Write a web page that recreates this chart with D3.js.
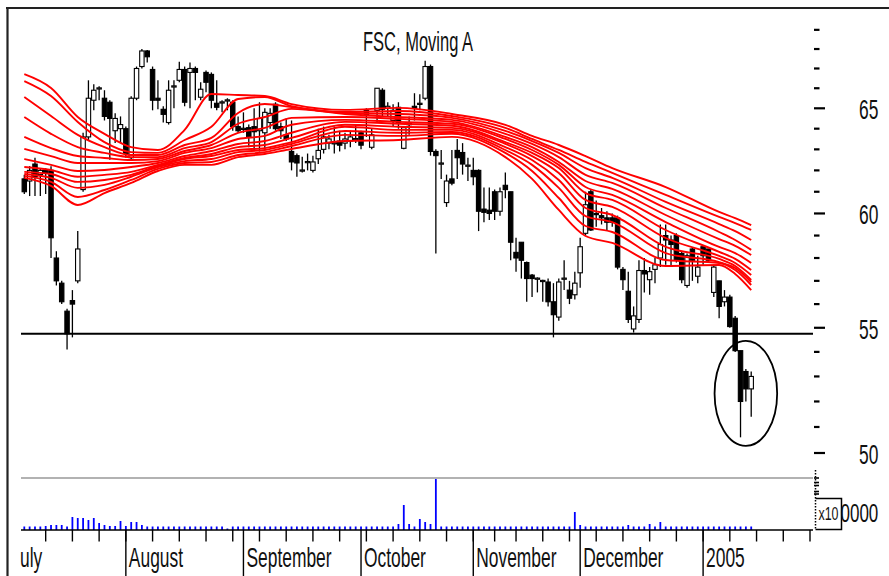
<!DOCTYPE html>
<html lang="en">
<head>
<meta charset="UTF-8">
<title>FSC, Moving A</title>
<style>
  body { margin: 0; background: #fff; }
  svg { display: block; }
  text { font-family: "Liberation Sans", Arial, sans-serif; fill: #111; }
</style>
</head>
<body>
<svg id="chart" width="889" height="576"></svg>
<script src="https://d3js.org/d3.v7.min.js"></script>
<script>
// daily candles, index 0 = first trading day shown
var open = [
  61.6, 61.5, 62.3, 61.8, 62.0, 62.0, 58.0, 56.9, 55.7, 56.15,
  57.0, 61.1, 63.6, 65.4, 66.0, 65.5, 65.3, 63.9, 64.0, 64.0,
  62.6, 65.5, 67.1, 67.9, 66.95, 65.5, 64.95, 64.3, 66.1, 66.4,
  66.95, 66.8, 67.0, 65.55, 66.8, 66.7, 65.25, 65.3, 65.4, 65.3,
  64.1, 64.0, 64.05, 64.1, 63.9, 63.8, 64.3, 65.2, 64.1, 63.7,
  62.9, 62.7, 62.0, 62.4, 62.0, 62.55, 63.0, 63.3, 63.3, 63.4,
  63.3, 63.4, 63.5, 63.8, 64.9, 63.1, 64.9, 65.9, 65.0, 64.4,
  65.05, 63.05, 64.2, 65.1, 65.2, 65.5, 67.1, 62.9, 62.3, 60.5,
  61.6, 62.95, 62.85, 62.2, 62.0, 62.0, 60.2, 60.15, 61.0, 60.1,
  61.3, 61.0, 58.25, 58.7, 57.8, 57.25, 57.1, 57.0, 56.95, 56.1,
  55.45, 57.1, 56.6, 56.4, 57.35, 59.1, 61.0, 60.0, 59.9, 59.8,
  59.8, 59.8, 57.5, 56.55, 54.95, 55.35, 57.45, 57.05, 57.5, 58.0,
  59.0, 58.8, 59.0, 58.2, 56.8, 58.4, 57.2, 58.5, 58.4, 56.5,
  57.0, 56.1, 56.3, 55.4, 54.05, 53.2, 52.5
];
var high = [
  61.8, 62.2, 62.6, 62.1, 62.1, 62.2, 58.3, 57.0, 55.8, 56.6,
  59.2, 63.8, 66.4, 66.2, 66.1, 65.9, 65.4, 64.75, 64.6, 64.1,
  65.6, 67.1, 68.0, 67.95, 67.1, 66.4, 65.1, 66.4, 66.4, 67.35,
  67.1, 67.3, 67.1, 66.3, 66.9, 66.8, 66.4, 65.4, 65.5, 65.4,
  64.6, 64.8, 64.2, 65.0, 65.3, 65.0, 65.0, 65.3, 64.3, 64.5,
  64.4, 62.8, 62.65, 62.8, 62.7, 64.0, 64.1, 63.7, 64.1, 63.9,
  63.8, 63.9, 64.2, 63.9, 65.0, 64.0, 66.0, 66.0, 65.3, 65.2,
  65.3, 64.1, 64.6, 65.75, 65.7, 67.4, 67.2, 63.0, 62.97, 61.8,
  62.97, 63.5, 63.3, 62.6, 62.6, 62.05, 61.2, 61.2, 61.1, 61.2,
  61.9, 61.0, 58.9, 58.7, 57.85, 57.3, 57.15, 57.05, 57.1, 56.9,
  57.1, 57.9, 57.0, 57.4, 58.9, 61.0, 61.1, 60.6, 60.25, 60.1,
  60.0, 59.9, 57.6, 57.4, 55.9, 57.9, 58.0, 57.6, 58.0, 59.5,
  59.5, 59.0, 59.1, 58.3, 58.2, 58.45, 58.1, 58.5, 58.4, 57.7,
  57.0, 56.6, 56.4, 55.5, 54.05, 53.3, 53.2
];
var low = [
  60.9, 60.8, 60.8, 60.8, 60.9, 58.0, 56.8, 56.0, 54.1, 54.6,
  56.9, 61.0, 63.4, 64.9, 65.4, 64.4, 62.5, 63.3, 63.3, 62.6,
  62.45, 65.4, 67.0, 67.3, 64.9, 64.95, 64.3, 64.2, 65.0, 66.3,
  65.1, 65.0, 65.4, 65.4, 65.8, 65.0, 64.9, 64.8, 64.9, 63.9,
  63.8, 63.8, 63.1, 62.95, 62.9, 63.0, 64.0, 63.9, 63.5, 63.4,
  62.0, 61.7, 61.9, 62.0, 61.9, 62.3, 62.8, 63.0, 62.8, 62.9,
  63.0, 63.1, 63.3, 63.0, 63.6, 63.0, 64.3, 64.6, 64.6, 64.1,
  64.0, 63.0, 63.7, 64.4, 64.9, 65.4, 62.7, 58.2, 61.6, 60.3,
  61.3, 61.6, 61.8, 61.5, 61.3, 59.2, 59.6, 59.7, 59.7, 59.9,
  60.7, 57.9, 57.4, 57.1, 56.1, 56.3, 56.5, 56.1, 55.9, 54.6,
  55.3, 56.6, 56.0, 56.2, 56.7, 59.0, 59.2, 59.4, 59.5, 59.2,
  59.4, 57.5, 56.6, 55.2, 54.8, 55.2, 56.5, 56.4, 56.9, 57.6,
  57.7, 57.6, 57.8, 56.9, 56.7, 57.0, 56.9, 57.7, 57.8, 56.3,
  55.4, 55.9, 55.0, 54.0, 50.6, 52.0, 51.4
];
var close = [
  61.0, 62.0, 61.7, 62.0, 61.9, 58.9, 57.0, 56.1, 54.75, 56.0,
  58.4, 63.6, 65.5, 65.9, 66.02, 64.6, 64.5, 64.5, 64.2, 62.8,
  65.5, 67.0, 67.9, 67.6, 65.4, 65.4, 64.7, 65.9, 66.12, 66.95,
  65.3, 67.0, 66.8, 65.95, 66.3, 65.4, 65.05, 65.32, 65.42, 64.1,
  63.9, 64.02, 63.6, 63.85, 64.5, 64.8, 64.75, 64.0, 63.9, 63.5,
  62.4, 62.35, 62.02, 62.42, 62.4, 62.95, 63.6, 63.5, 63.32, 63.2,
  63.5, 63.6, 63.52, 63.2, 64.7, 63.7, 66.0, 64.95, 65.1, 64.9,
  64.3, 64.05, 64.25, 65.0, 65.25, 67.1, 62.9, 62.7, 62.35, 61.5,
  61.4, 62.6, 62.3, 62.25, 61.7, 60.1, 60.05, 60.0, 60.1, 61.0,
  61.1, 58.7, 58.0, 57.9, 57.1, 57.1, 57.12, 57.02, 56.1, 55.55,
  56.95, 57.12, 56.25, 56.9, 58.5, 60.4, 59.25, 59.95, 59.8, 59.6,
  59.6, 57.6, 57.05, 55.35, 55.5, 57.45, 57.3, 57.4, 57.7, 58.6,
  58.8, 58.6, 57.9, 57.05, 58.1, 57.9, 57.6, 58.1, 57.9, 57.6,
  55.9, 56.3, 55.05, 54.05, 52.0, 52.5, 53.0
];
// volume, x100000
var volume = [
  3.5, 3.5, 3.5, 3.5, 4, 5, 5, 5, 3.5, 13,
  12, 12, 10, 12, 7, 5, 4, 4, 9, 4,
  8, 8, 5, 3.5, 3.5, 3.5, 3.5, 3.5, 3.5, 3.5,
  3.5, 3.5, 3.5, 3.5, 3.5, 3.5, 3.5, 3.5, 1.5, 3.5,
  3.5, 3.5, 3.5, 3.5, 3.5, 3.5, 3.5, 3.5, 3.5, 3.5,
  3.5, 3.5, 3.5, 3.5, 3.5, 3.5, 3.5, 3.5, 3.5, 3.5,
  3.5, 3.5, 3.5, 3.5, 3.5, 3.5, 3.5, 3.5, 3.5, 3.5,
  6, 25, 6, 3.5, 11, 8, 6, 51, 3.5, 3.5,
  3.5, 3.5, 3.5, 3.5, 3.5, 3.5, 3.5, 3.5, 3.5, 3.5,
  3.5, 3.5, 3.5, 3.5, 3.5, 3.5, 3.5, 3.5, 3.5, 3.5,
  3.5, 3.5, 3.5, 18, 5, 3.5, 3.5, 3.5, 3.5, 3.5,
  3.5, 3.5, 3.5, 5, 3.5, 3.5, 3.5, 6, 3.5, 8,
  3.5, 3.5, 3.5, 3.5, 3.5, 3.5, 3.5, 3.5, 3.5, 3.5,
  3.5, 3.5, 3.5, 3.5, 3.5, 3.5, 3.5
];

// moving average bundle, read at these day indexes (top line to bottom line at the right end)
var maIdx = [0, 5, 10, 15, 20, 25, 30, 35, 40, 45, 50, 60, 70, 80, 90, 95, 100, 105, 110, 120, 130, 133, 136];
var ma1  = [66.71, 66.01, 64.57, 63.75, 63.11, 62.97, 63.94, 65.71, 65.66, 65.61, 65.21, 64.92, 65.02, 64.72, 64.19, 63.65, 63.21, 62.68, 62.11, 61.22, 60.07, 59.79, 59.47];
var ma2  = [66.36, 65.61, 64.33, 63.35, 62.87, 62.83, 63.45, 64.09, 65.46, 65.56, 65.11, 64.82, 64.87, 64.62, 64.04, 63.50, 62.97, 62.40, 61.88, 60.85, 59.84, 59.56, 59.25];
var ma3  = [65.56, 64.62, 63.70, 63.11, 62.73, 62.73, 63.21, 63.55, 64.77, 65.21, 65.06, 64.77, 64.72, 64.53, 63.89, 63.40, 62.83, 62.11, 61.65, 60.53, 59.52, 59.20, 58.80];
var ma4  = [64.57, 63.75, 63.11, 62.83, 62.63, 62.63, 63.06, 63.35, 64.24, 64.57, 64.97, 64.72, 64.57, 64.43, 63.75, 63.26, 62.63, 61.79, 61.41, 60.25, 59.16, 58.80, 58.36];
var ma5  = [63.60, 63.06, 62.68, 62.59, 62.49, 62.54, 62.92, 63.21, 63.80, 64.04, 64.53, 64.57, 64.48, 64.33, 63.60, 63.11, 62.40, 61.50, 61.13, 59.93, 58.84, 58.54, 58.13];
var ma6  = [63.02, 62.68, 62.35, 62.35, 62.35, 62.44, 62.83, 63.06, 63.50, 63.65, 64.19, 64.43, 64.33, 64.24, 63.50, 62.97, 62.26, 61.22, 60.85, 59.61, 58.49, 58.22, 57.78];
var ma7  = [62.54, 62.26, 61.97, 62.02, 62.16, 62.35, 62.68, 62.92, 63.26, 63.40, 63.80, 64.33, 64.24, 64.14, 63.35, 62.83, 62.11, 60.94, 60.62, 59.25, 58.27, 57.96, 57.47];
var ma8  = [62.16, 62.02, 61.70, 61.79, 61.93, 62.26, 62.59, 62.78, 63.11, 63.21, 63.55, 64.19, 64.09, 64.04, 63.26, 62.68, 61.88, 60.62, 60.30, 58.89, 58.09, 57.78, 57.25];
var ma9  = [61.93, 61.83, 61.46, 61.55, 61.79, 62.21, 62.54, 62.68, 62.97, 63.06, 63.35, 64.09, 63.94, 63.94, 63.11, 62.49, 61.55, 60.25, 59.93, 58.49, 57.96, 57.65, 57.04];
var ma10 = [61.83, 61.65, 61.18, 61.32, 61.70, 62.16, 62.44, 62.54, 62.87, 62.97, 63.26, 63.89, 63.80, 63.84, 62.97, 62.26, 61.18, 59.88, 59.61, 58.22, 57.82, 57.56, 56.95];
var ma11 = [61.74, 61.46, 60.76, 61.08, 61.55, 62.07, 62.35, 62.40, 62.73, 62.87, 63.16, 63.70, 63.65, 63.75, 62.83, 61.97, 60.71, 59.43, 59.16, 57.91, 57.78, 57.47, 56.82];
var ma12 = [61.65, 61.27, 60.39, 60.94, 61.41, 61.97, 62.26, 62.26, 62.63, 62.78, 63.02, 63.40, 63.45, 63.60, 62.63, 61.60, 60.16, 58.98, 58.67, 57.65, 57.69, 57.30, 56.60];
var maLines = [ma1, ma2, ma3, ma4, ma5, ma6, ma7, ma8, ma9, ma10, ma11, ma12];

// axes
var monthIdx = [-3, 19, 41, 63, 84, 104, 127];
var monthLabels = ["July", "August", "September", "October", "November", "December", "2005"];
var weekIdx = [4, 9, 14, 19, 24, 29, 34, 39, 44, 49, 54, 59, 64, 69, 74, 79, 84, 88, 92, 97, 102, 107, 112, 117, 122, 127, 132, 137, 142, 147];
var priceMajor = [50, 55, 60, 65];
var priceMinor = [51, 52, 53, 54, 56, 57, 58, 59, 61, 62, 63, 64, 66, 67, 68, 69];
var volTicks = [52, 47.5, 44.5, 38.5, 36];
var supportLevel = 54.75;
var circleAt = { i: 135, price: 52.32 };

var svg = d3.select("#chart");

var x = d3.scaleLinear().domain([0, 147]).range([24.3, 810]);
var y = d3.scaleLog().domain([50, 65]).range([453, 108.3]);
var yv = d3.scaleLinear().domain([0, 52]).range([530, 478]);

var plotL = 21, plotR = 813;

// stretched narrow-looking text like the original
function label(g, px, py, str, size, sy, anchor) {
  return g.append("text")
    .attr("transform", "translate(" + px + "," + py + ") scale(1," + sy + ")")
    .attr("font-size", size)
    .attr("text-anchor", anchor || "start")
    .text(str);
}

svg.append("defs").append("clipPath").attr("id", "lblclip")
  .append("rect").attr("x", 20).attr("y", 530).attr("width", 869).attr("height", 46);

// frame
svg.append("line").attr("x1", 6).attr("x2", 889).attr("y1", 8).attr("y2", 8)
  .attr("stroke", "#222").attr("stroke-width", 2.2);
svg.append("line").attr("x1", 7.5).attr("x2", 7.5).attr("y1", 7).attr("y2", 576)
  .attr("stroke", "#222").attr("stroke-width", 2.2);

// title
label(svg, 418, 50.7, "FSC, Moving A", 16.5, 1.65, "middle");

// support line
svg.append("line")
  .attr("x1", plotL).attr("x2", plotR)
  .attr("y1", y(supportLevel)).attr("y2", y(supportLevel))
  .attr("stroke", "#000").attr("stroke-width", 2);

// candles
var idx = d3.range(open.length);
var candles = svg.append("g");
candles.selectAll("line.wick").data(idx).join("line")
  .attr("class", "wick")
  .attr("x1", function(i) { return x(i); })
  .attr("x2", function(i) { return x(i); })
  .attr("y1", function(i) { return y(high[i]); })
  .attr("y2", function(i) { return y(low[i]); })
  .attr("stroke", "#000").attr("stroke-width", 1.3);
candles.selectAll("rect.body").data(idx).join("rect")
  .attr("class", "body")
  .attr("x", function(i) { return x(i) - 2.2; })
  .attr("width", 4.4)
  .attr("y", function(i) { return y(Math.max(open[i], close[i])); })
  .attr("height", function(i) { return Math.max(1.2, Math.abs(y(open[i]) - y(close[i]))); })
  .attr("fill", function(i) { return close[i] >= open[i] ? "#fff" : "#000"; })
  .attr("stroke", "#000").attr("stroke-width", 1.1);

// moving averages
var maLine = d3.line()
  .x(function(d) { return x(d[0]); })
  .y(function(d) { return y(d[1]); })
  .curve(d3.curveMonotoneX);
svg.append("g").selectAll("path").data(maLines).join("path")
  .attr("d", function(vals) { return maLine(vals.map(function(v, k) { return [maIdx[k], v]; })); })
  .attr("fill", "none").attr("stroke", "#ff0000").attr("stroke-width", 1.9);

// circle round the break
svg.append("ellipse")
  .attr("cx", x(circleAt.i)).attr("cy", y(circleAt.price))
  .attr("rx", 31.3).attr("ry", 52.5)
  .attr("fill", "none").attr("stroke", "#000").attr("stroke-width", 1.8);

// price axis
var ax = svg.append("g");
ax.selectAll("line.maj").data(priceMajor).join("line")
  .attr("x1", 814).attr("x2", 825)
  .attr("y1", function(d) { return y(d); }).attr("y2", function(d) { return y(d); })
  .attr("stroke", "#000").attr("stroke-width", 2.2);
ax.selectAll("line.min").data(priceMinor).join("line")
  .attr("x1", 814).attr("x2", 819.5)
  .attr("y1", function(d) { return y(d); }).attr("y2", function(d) { return y(d); })
  .attr("stroke", "#000").attr("stroke-width", 2.2);
priceMajor.forEach(function(p) { label(ax, 859, y(p) + 11, String(p), 17.4, 1.6, "start"); });

// volume panel
svg.append("line").attr("x1", plotL).attr("x2", plotR).attr("y1", 478).attr("y2", 478)
  .attr("stroke", "#666").attr("stroke-width", 1.2);
svg.append("g").selectAll("line").data(idx).join("line")
  .attr("x1", function(i) { return x(i); }).attr("x2", function(i) { return x(i); })
  .attr("y1", yv(0)).attr("y2", function(i) { return yv(volume[i]); })
  .attr("stroke", "#0000ff").attr("stroke-width", 1.8);
svg.append("g").selectAll("line").data(volTicks).join("line")
  .attr("x1", 814).attr("x2", 819)
  .attr("y1", function(d) { return yv(d); }).attr("y2", function(d) { return yv(d); })
  .attr("stroke", "#000").attr("stroke-width", 1.6);
svg.append("path").attr("d", "M815.5,498.5 H841.5 V529.5 H815.5")
  .attr("fill", "#fff").attr("stroke", "#000").attr("stroke-width", 1.5);
svg.append("line").attr("x1", 815.5).attr("x2", 815.5).attr("y1", 470).attr("y2", 529.5)
  .attr("stroke", "#000").attr("stroke-width", 1.5).attr("stroke-dasharray", "1.5,1.5");
label(svg, 818.5, 520, "x10", 12.4, 1.5, "start");
label(svg, 840.5, 521.7, "0000", 17, 1.55, "start");

// time axis
var tx = svg.append("g");
tx.append("line").attr("x1", plotL).attr("x2", plotR).attr("y1", 530).attr("y2", 530)
  .attr("stroke", "#000").attr("stroke-width", 1.3);
tx.selectAll("line.wk").data(weekIdx).join("line")
  .attr("x1", function(i) { return x(i); }).attr("x2", function(i) { return x(i); })
  .attr("y1", 530).attr("y2", 541.5)
  .attr("stroke", "#000").attr("stroke-width", 1.4);
tx.selectAll("line.mo").data(monthIdx.slice(1)).join("line")
  .attr("x1", function(i) { return x(i); }).attr("x2", function(i) { return x(i); })
  .attr("y1", 530).attr("y2", 576)
  .attr("stroke", "#000").attr("stroke-width", 1.4);
var ml = tx.append("g").attr("clip-path", "url(#lblclip)");
monthIdx.forEach(function(i, k) { label(ml, x(i) + 3, 567, monthLabels[k], 17.4, 1.6, "start"); });
</script>
</body>
</html>
